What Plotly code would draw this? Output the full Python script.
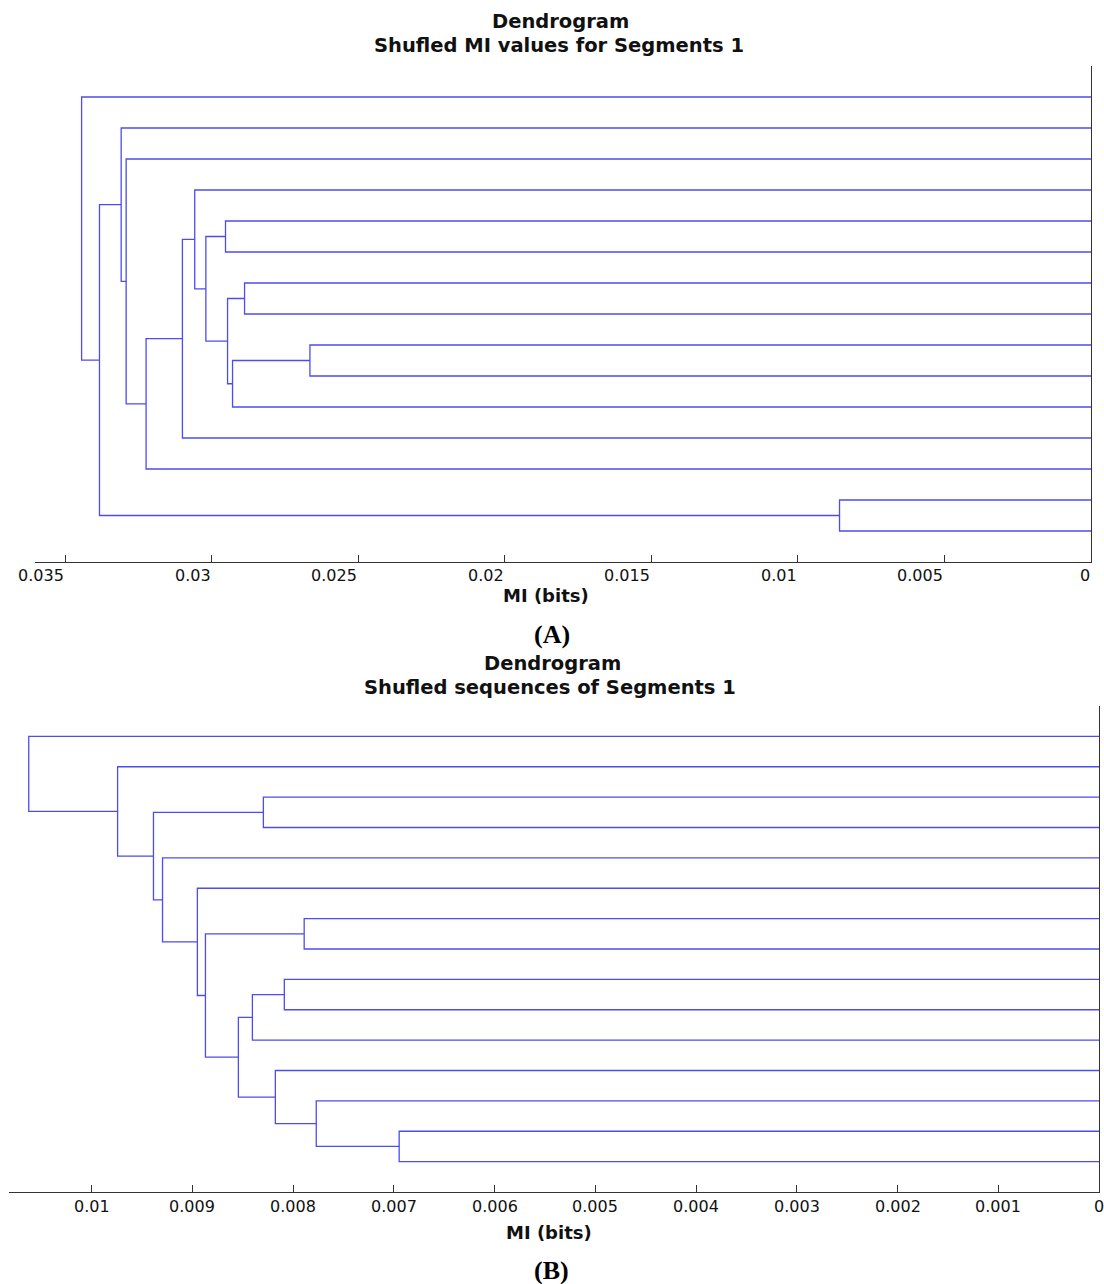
import plotly.graph_objects as go

# ---------------- data ----------------
# Panel A: 15 leaves (display order top->bottom, ids 0..14); merges create ids 15..28
a_merge_left = [13, 8, 16, 6, 18, 4, 20, 3, 22, 23, 2, 1, 26, 0]
a_merge_right = [14, 9, 10, 7, 17, 5, 19, 21, 11, 12, 24, 25, 15, 27]
a_heights = [0.00858, 0.02665, 0.02929, 0.02888, 0.02946, 0.02953, 0.0302,
             0.03058, 0.0310, 0.03224, 0.03292, 0.03309, 0.03383, 0.03444]
a_ticks = [0.035, 0.03, 0.025, 0.02, 0.015, 0.01, 0.005, 0]
a_ticklabels = ["0.035", "0.03", "0.025", "0.02", "0.015", "0.01", "0.005", "0"]

# Panel B
b_merge_left = [13, 12, 11, 8, 18, 19, 6, 21, 5, 4, 2, 25, 1, 0]
b_merge_right = [14, 15, 16, 9, 10, 17, 7, 20, 22, 23, 3, 24, 26, 27]
b_heights = [0.006947, 0.00777, 0.008176, 0.008087, 0.008404, 0.008543, 0.00789,
             0.00887, 0.00895, 0.009296, 0.008295, 0.009386, 0.009742, 0.010624]
b_ticks = [0.01, 0.009, 0.008, 0.007, 0.006, 0.005, 0.004, 0.003, 0.002, 0.001, 0]
b_ticklabels = ["0.01", "0.009", "0.008", "0.007", "0.006", "0.005", "0.004",
                "0.003", "0.002", "0.001", "0"]

N_LEAVES = 15


def dendro_segments(lefts, rights, heights, n):
    pos = {i: float(i + 1) for i in range(n)}
    hgt = {i: 0.0 for i in range(n)}
    xs, ys = [], []
    for k, (l, r, h) in enumerate(zip(lefts, rights, heights)):
        cid = n + k
        xs += [hgt[l], h, h, hgt[r], None]
        ys += [pos[l], pos[l], pos[r], pos[r], None]
        pos[cid] = (pos[l] + pos[r]) / 2
        hgt[cid] = h
    return xs, ys


LINE = dict(color="rgb(76,76,240)", width=1.3)
fig = go.Figure()

xa, ya = dendro_segments(a_merge_left, a_merge_right, a_heights, N_LEAVES)
fig.add_trace(go.Scatter(x=xa, y=ya, mode="lines", line=LINE, xaxis="x", yaxis="y",
                         hoverinfo="skip", showlegend=False))
xb, yb = dendro_segments(b_merge_left, b_merge_right, b_heights, N_LEAVES)
fig.add_trace(go.Scatter(x=xb, y=yb, mode="lines", line=LINE, xaxis="x2", yaxis="y2",
                         hoverinfo="skip", showlegend=False))

W, H = 1104, 1284
def fx(px):
    return px / W
def fy(py):
    return 1 - py / H

SANS = "DejaVu Sans, Liberation Sans, Arial, sans-serif"
tickfont = dict(family=SANS, size=16, color="#111")
common_x = dict(showgrid=False, zeroline=False, showline=True, linecolor="#333",
                linewidth=1, ticks="inside", ticklen=7, tickcolor="#333",
                tickfont=tickfont, mirror=False)
common_y = dict(showgrid=False, zeroline=False, showline=True, linecolor="#333",
                linewidth=1, ticks="", showticklabels=False, range=[16, 0], side="right")

fig.update_layout(
    width=W, height=H,
    margin=dict(l=0, r=0, t=0, b=0),
    paper_bgcolor="white", plot_bgcolor="white",
    # top panel: tick labels are drawn right-aligned to their ticks (as in the source)
    xaxis=dict(domain=[fx(35), fx(1091)], range=[0.03603, 0], anchor="y",
               tickvals=a_ticks, showticklabels=False, **common_x),
    yaxis=dict(domain=[fy(562), fy(66)], anchor="x", **common_y),
    # bottom panel: labels drawn as annotations too, so the edge label "0" is kept
    xaxis2=dict(domain=[fx(9), fx(1099)], range=[0.01082, 0], anchor="y2",
                tickvals=b_ticks, showticklabels=False, **common_x),
    yaxis2=dict(domain=[fy(1192), fy(706)], anchor="x2", **common_y),
)

title_font = dict(family=SANS, size=19.5, color="#111")
label_font = dict(family=SANS, size=18, color="#111")
panel_font = dict(family="Liberation Serif, Times New Roman, serif", size=26, color="#000")

annotations = [
    dict(text="<b>Dendrogram</b>", x=fx(560), y=fy(22), font=title_font),
    dict(text="<b>Shufled MI values for Segments 1</b>", x=fx(559), y=fy(46), font=title_font),
    dict(text="<b>MI (bits)</b>", x=fx(546), y=fy(596), font=label_font),
    dict(text="<b>(A)</b>", x=fx(552), y=fy(634), font=panel_font),
    dict(text="<b>Dendrogram</b>", x=fx(552), y=fy(663), font=title_font),
    dict(text="<b>Shufled sequences of Segments 1</b>", x=fx(550), y=fy(687), font=title_font),
    dict(text="<b>MI (bits)</b>", x=fx(549), y=fy(1232), font=label_font),
    dict(text="<b>(B)</b>", x=fx(551), y=fy(1270), font=panel_font),
]
for a in annotations:
    a.update(xref="paper", yref="paper", showarrow=False, xanchor="center", yanchor="middle")

# top-panel tick labels, placed at the tick values through the x scale
for v, t in zip(a_ticks, a_ticklabels):
    annotations.append(dict(text=t, x=v, xref="x", y=fy(575), yref="paper",
                            xanchor="right", yanchor="middle", showarrow=False,
                            font=tickfont, xshift=1))

# bottom-panel tick labels, centred on their ticks
for v, t in zip(b_ticks, b_ticklabels):
    annotations.append(dict(text=t, x=v, xref="x2", y=fy(1206), yref="paper",
                            xanchor="center", yanchor="middle", showarrow=False,
                            font=tickfont))

fig.update_layout(annotations=annotations)

fig.write_html("out.html")
